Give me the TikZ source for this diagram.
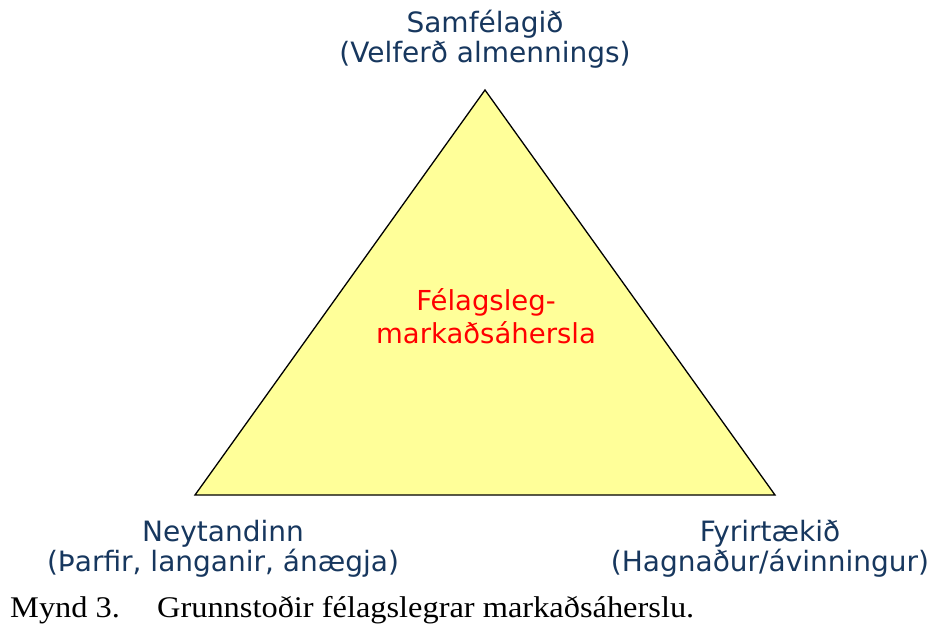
\documentclass[tikz,border=0pt]{standalone}
\usepackage{fontspec}
\setmainfont{Liberation Serif}
\newfontfamily\labelfont{DejaVu Sans}
\newfontfamily\capfont[FakeStretch=1.08]{Liberation Serif}
\definecolor{lblblue}{RGB}{23,55,94}
\definecolor{triyellow}{RGB}{255,255,153}
\definecolor{centerred}{RGB}{255,0,0}
\begin{document}
\begin{tikzpicture}[x=1pt,y=-1pt,
  lbl/.style={font=\labelfont\fontsize{28}{30}\selectfont, text=lblblue, align=center, inner sep=0pt, anchor=base},
  ctr/.style={font=\labelfont\fontsize{27.5}{33}\selectfont, text=centerred, align=center, inner sep=0pt, anchor=base},
  tri/.style={draw=black, line width=1.3pt, fill=triyellow, line join=miter},
  captext/.style={font=\capfont\fontsize{30}{32}\selectfont, anchor=base west, inner sep=0pt}]
\useasboundingbox (0,0) rectangle (931,628);
\coordinate (apex) at (485,90);
\coordinate (bl) at (195,495);
\coordinate (br) at (775,495);
\draw[tri] (apex) -- (bl) -- (br) -- cycle;
\node[lbl] (top) at (485,63) {Samfélagið\\(Velferð almennings)};
\node[ctr] (mid) at (486,343) {Félagsleg-\\markaðsáhersla};
\node[lbl] (left) at (223,571) {Neytandinn\\(Þarfir, langanir, ánægja)};
\node[lbl] (right) at (770,571) {Fyrirtækið\\(Hagnaður/ávinningur)};
\node[captext] (caption) at (10,617) {\makebox[147pt][l]{Mynd 3.}Grunnstoðir félagslegrar markaðsáherslu.};
\end{tikzpicture}
\end{document}
